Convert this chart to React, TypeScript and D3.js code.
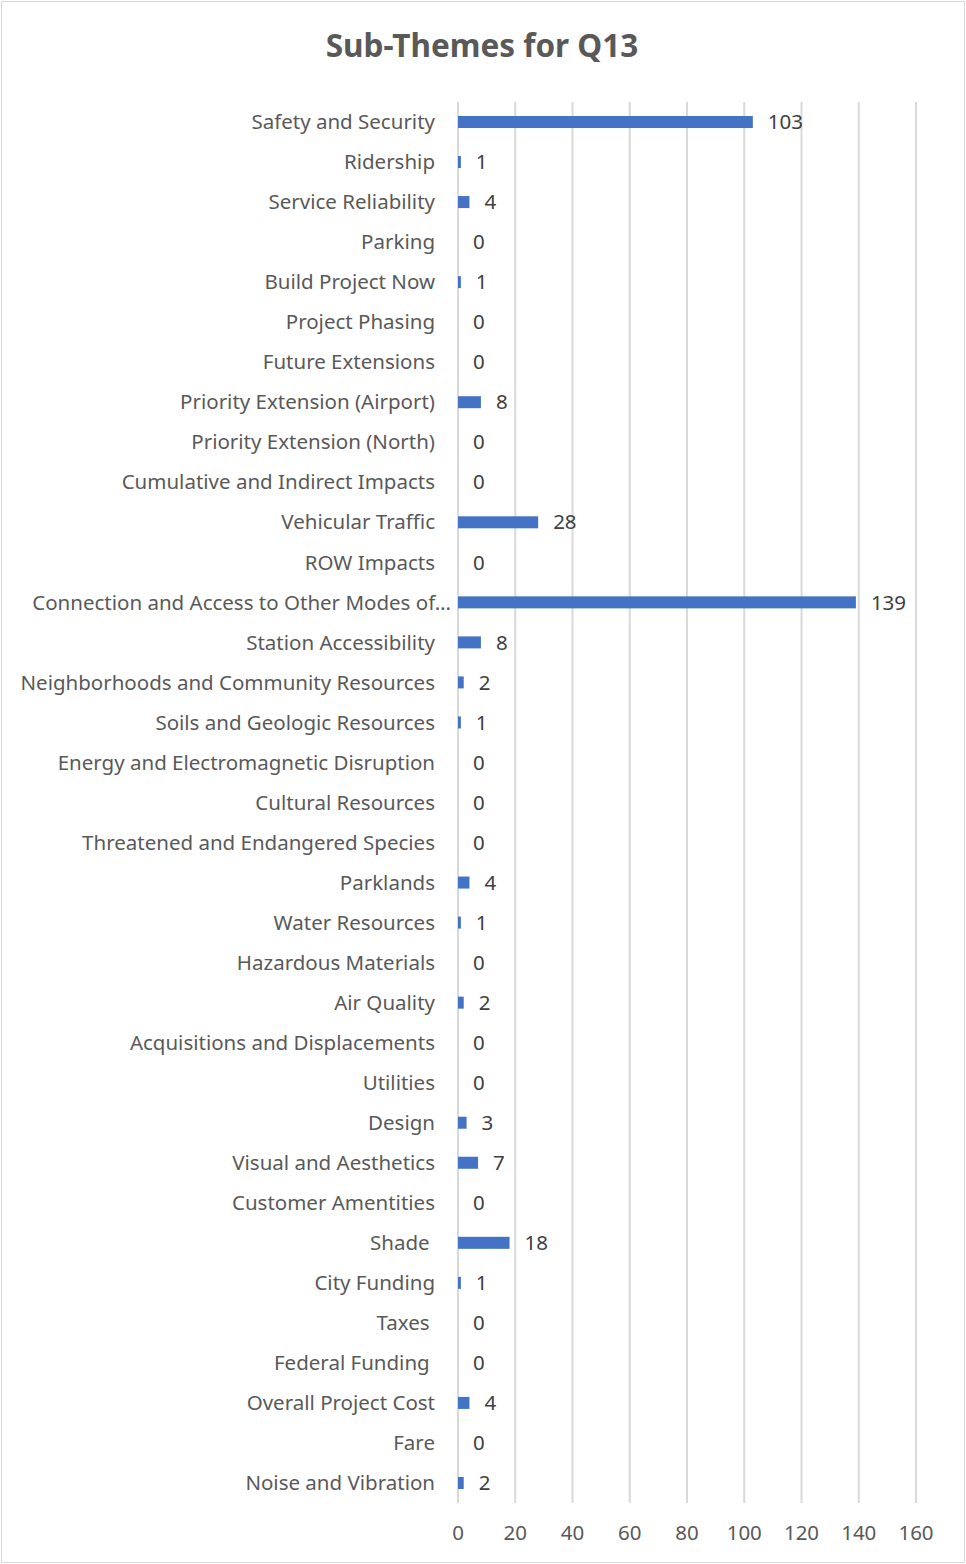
import * as d3 from "d3";

const categories = [
  "Safety and Security",
  "Ridership",
  "Service Reliability",
  "Parking",
  "Build Project Now",
  "Project Phasing",
  "Future Extensions",
  "Priority Extension (Airport)",
  "Priority Extension (North)",
  "Cumulative and Indirect Impacts",
  "Vehicular Traffic",
  "ROW Impacts",
  "Connection and Access to Other Modes of…",
  "Station Accessibility",
  "Neighborhoods and Community Resources",
  "Soils and Geologic Resources",
  "Energy and Electromagnetic Disruption",
  "Cultural Resources",
  "Threatened and Endangered Species",
  "Parklands",
  "Water Resources",
  "Hazardous Materials",
  "Air Quality",
  "Acquisitions and Displacements",
  "Utilities",
  "Design",
  "Visual and Aesthetics",
  "Customer Amentities",
  "Shade ",
  "City Funding",
  "Taxes ",
  "Federal Funding ",
  "Overall Project Cost",
  "Fare",
  "Noise and Vibration",
];

const counts = [
  103, 1, 4, 0, 1, 0, 0, 8, 0, 0, 28, 0, 139, 8, 2, 1, 0, 0, 0, 4, 1, 0, 2, 0,
  0, 3, 7, 0, 18, 1, 0, 0, 4, 0, 2,
];

const xTicks = [0, 20, 40, 60, 80, 100, 120, 140, 160];

const title = "Sub-Themes for Q13";

const W = 966,
  H = 1564;
const plot = { left: 458, right: 916, top: 102, bottom: 1503 };
const font = "'Noto Sans', 'Open Sans', sans-serif";

const App = () => {
  const x = d3.scaleLinear().domain([0, 160]).range([plot.left, plot.right]);
  const y = d3
    .scaleBand<number>()
    .domain(d3.range(categories.length))
    .range([plot.top, plot.bottom])
    .paddingInner(0.7)
    .paddingOuter(0.35);

  return (
    <svg
      width={W}
      height={H}
      style={{ position: "absolute", left: 0, top: 0 }}
    >
      <rect x={0} y={0} width={W} height={H} fill="#fff" />
      <rect
        x={1.5}
        y={1.5}
        width={W - 3}
        height={H - 3}
        fill="none"
        stroke="#d9d9d9"
        strokeWidth={1}
      />
      <text
        x={482}
        y={57}
        textAnchor="middle"
        fontFamily={font}
        fontWeight="bold"
        fontSize={31.5}
        fill="#595959"
      >
        {title}
      </text>

      {/* gridlines */}
      {xTicks.map((t) => (
        <line
          key={t}
          x1={x(t)}
          x2={x(t)}
          y1={plot.top}
          y2={plot.bottom}
          stroke="#d9d9d9"
          strokeWidth={2}
        />
      ))}

      {xTicks.map((t) => (
        <text
          key={"t" + t}
          x={x(t)}
          y={1540}
          textAnchor="middle"
          fontFamily={font}
          fontSize={20.5}
          fill="#595959"
        >
          {t}
        </text>
      ))}

      {categories.map((c, i) => {
        const cy = (y(i) ?? 0) + y.bandwidth() / 2;
        return (
          <g key={i}>
            <text
              x={c.endsWith("…") ? 451 : 435}
              y={cy}
              dy="0.35em"
              textAnchor="end"
              fontFamily={font}
              fontSize={20.5}
              fill="#595959"
              style={{ whiteSpace: "pre" }}
            >
              {c}
            </text>
            {counts[i] > 0 && (
              <rect
                x={x(0)}
                y={y(i)}
                width={x(counts[i]) - x(0)}
                height={y.bandwidth()}
                fill="#4472c4"
              />
            )}
            <text
              x={x(counts[i]) + 15}
              y={cy}
              dy="0.35em"
              fontFamily={font}
              fontSize={20.5}
              fill="#404040"
            >
              {counts[i]}
            </text>
          </g>
        );
      })}
    </svg>
  );
};

export default App;
